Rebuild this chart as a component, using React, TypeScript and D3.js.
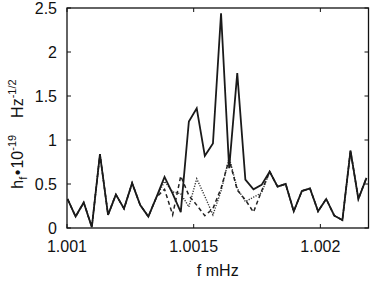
import React from "react";
import * as d3 from "d3";

// frequency (mHz) of each sample
const freq = [
  1.001002, 1.001034, 1.001066, 1.001098, 1.00113, 1.001162, 1.001193, 1.001225,
  1.001257, 1.001289, 1.001321, 1.001353, 1.001385, 1.001417, 1.001449, 1.001481,
  1.001512, 1.001544, 1.001576, 1.001608, 1.00164, 1.001672, 1.001704, 1.001736,
  1.001768, 1.0018, 1.001831, 1.001863, 1.001895, 1.001927, 1.001959, 1.001991,
  1.002023, 1.002055, 1.002087, 1.002119, 1.00215, 1.002182,
];

// h_f * 1e19
const hSolid = [
  0.33, 0.13, 0.29, 0.01, 0.84, 0.15, 0.38, 0.22, 0.51, 0.26, 0.13, 0.35, 0.58,
  0.39, 0.18, 1.21, 1.36, 0.82, 0.96, 2.44, 0.68, 1.76, 0.55, 0.44, 0.49, 0.64,
  0.47, 0.5, 0.19, 0.42, 0.45, 0.19, 0.33, 0.14, 0.09, 0.88, 0.33, 0.57,
];
const hDashed = [
  0.33, 0.13, 0.29, 0.01, 0.84, 0.15, 0.38, 0.22, 0.51, 0.26, 0.13, 0.35, 0.44,
  0.15, 0.59, 0.37, 0.26, 0.14, 0.22, 0.45, 0.78, 0.43, 0.32, 0.18, 0.42, 0.64,
  0.47, 0.5, 0.19, 0.42, 0.45, 0.19, 0.33, 0.14, 0.09, 0.88, 0.33, 0.57,
];
const hDotted = [
  0.33, 0.13, 0.29, 0.01, 0.84, 0.15, 0.38, 0.22, 0.51, 0.26, 0.13, 0.35, 0.53,
  0.41, 0.39, 0.24, 0.56, 0.36, 0.15, 0.42, 0.8, 0.45, 0.3, 0.35, 0.4, 0.64,
  0.47, 0.5, 0.19, 0.42, 0.45, 0.19, 0.33, 0.14, 0.09, 0.88, 0.33, 0.57,
];

const xTicks = [1.001, 1.0015, 1.002];
const yTicks = [0, 0.5, 1, 1.5, 2, 2.5];

const width = 370, height = 282;
const left = 67, right = 368.5, top = 8, bottom = 228;
const font = "'Liberation Sans', Arial, Helvetica, sans-serif";

function App() {
  const x = d3.scaleLinear().domain([1.001, 1.00219]).range([left, right]);
  const y = d3.scaleLinear().domain([0, 2.5]).range([bottom, top]);

  const line = (vals: number[]) =>
    d3.line<number>()
      .x((d, i) => x(freq[i]))
      .y((d) => y(d))(vals) as string;

  return (
    <svg width={width} height={height}
      style={{ position: "fixed", left: 0, top: 0, background: "#fff" }}
      fontFamily={font}>
      <defs>
        <clipPath id="plot">
          <rect x={left} y={top} width={right - left} height={bottom - top} />
        </clipPath>
      </defs>

      <g clipPath="url(#plot)" fill="none" strokeLinejoin="miter">
        <path d={line(hDotted)} stroke="#333" strokeWidth={1.4} strokeDasharray="1.2,1.4" />
        <path d={line(hDashed)} stroke="#222" strokeWidth={1.5} strokeDasharray="4,3" />
        <path d={line(hSolid)} stroke="#1a1a1a" strokeWidth={1.8} />
      </g>

      {/* frame */}
      <rect x={left} y={top} width={right - left} height={bottom - top}
        fill="none" stroke="#111" strokeWidth={1.3} />

      {/* y ticks, both sides, pointing in */}
      {yTicks.map((t) => (
        <g key={"y" + t}>
          <line x1={left} x2={left + 4} y1={y(t)} y2={y(t)} stroke="#111" />
          <line x1={right} x2={right - 4} y1={y(t)} y2={y(t)} stroke="#111" />
          <text x={57} y={y(t)} dy="0.36em" textAnchor="end" fontSize={16} fill="#111">
            {String(t)}
          </text>
        </g>
      ))}

      {/* x ticks, top and bottom */}
      {xTicks.map((t) => (
        <g key={"x" + t}>
          <line x1={x(t)} x2={x(t)} y1={bottom} y2={bottom - 4} stroke="#111" />
          <line x1={x(t)} x2={x(t)} y1={top} y2={top + 4} stroke="#111" />
          <text x={x(t)} y={251.5} textAnchor="middle" fontSize={16} fill="#111">
            {String(t)}
          </text>
        </g>
      ))}

      <text x={(left + right) / 2} y={275.5} textAnchor="middle" fontSize={16} fill="#111">
        f mHz
      </text>

      <text transform="translate(23,134) rotate(-90)" textAnchor="middle" fontSize={16} fill="#111">
        <tspan>h</tspan>
        <tspan fontSize={11} dy={4}>f</tspan>
        <tspan dy={-4} dx={1.5}>•</tspan>
        <tspan dx={1}>10</tspan>
        <tspan fontSize={11} dy={-7}>-19</tspan>
        <tspan dy={7} dx={17}>Hz</tspan>
        <tspan fontSize={11} dy={-7}>-1/2</tspan>
      </text>
    </svg>
  );
}

export default App;
